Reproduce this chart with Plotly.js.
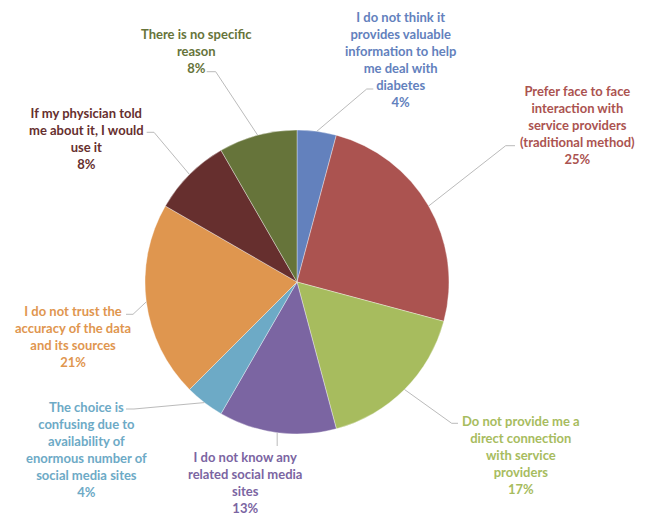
<!DOCTYPE html>
<html>
<head>
<meta charset="utf-8">
<script src="https://cdn.plot.ly/plotly-3.0.1.min.js"></script>
<style>html,body{margin:0;padding:0;background:#fff;}#chart{width:645px;height:516px;}</style>
</head>
<body>
<div id="chart"></div>
<script>
// ---- data ----
var categories = [
  "I do not think it<br>provides valuable<br>information to help<br>me deal with<br>diabetes",
  "Prefer face to face<br>interaction with<br>service providers<br>(traditional method)",
  "Do not provide me a<br>direct connection<br>with service<br>providers",
  "I do not know any<br>related social media<br>sites",
  "The choice is<br>confusing due to<br>availability of<br>enormous number of<br>social media sites",
  "I do not trust the<br>accuracy of the data<br>and its sources",
  "If my physician told<br>me about it, I would<br>use it",
  "There is no specific<br>reason"
];
var counts = [1, 6, 4, 3, 1, 5, 2, 2];
var colors = ["#6381BD", "#AB5350", "#A7BC5E", "#7B65A2", "#6DAAC6", "#DF964F", "#662F2E", "#66743A"];

// ---- layout constants (pixels) ----
var W = 645, H = 516;
var CX = 297, CY = 282, R = 152;
// label block centres and leader elbows/ends
var labelPos = [[400, 60], [577, 125], [521, 455], [245, 482], [86, 449], [72.5, 336.5], [86.7, 138], [196, 51.5]];
var leaderElbow = [[366.7, 89], [505.7, 145.7], [451.7, 423.3], null, [134, 409], [133, 314.3], [154, 132.3], [215.7, 71.7]];
var leaderEnd = [[373.3, 89], [515, 145.7], [458, 423.3], [277.2, 446], [126, 409], [126, 314.3], [146.7, 132.3], [206.7, 71.7]];

function px(x) { return x / W; }
function py(y) { return 1 - y / H; }

var total = counts.reduce(function (a, b) { return a + b; }, 0);

var trace = {
  type: 'pie',
  values: counts,
  labels: categories,
  sort: false,
  direction: 'clockwise',
  rotation: 0,
  textinfo: 'none',
  hoverinfo: 'label+percent',
  marker: { colors: colors, line: { color: 'rgba(255,255,255,0.6)', width: 0.6 } },
  domain: { x: [px(CX - R), px(CX + R)], y: [py(CY + R), py(CY - R)] },
  showlegend: false
};

var annotations = [];
var shapes = [];
var cum = 0;
counts.forEach(function (v, i) {
  var mid = (cum + v / 2) / total;
  cum += v;
  var ang = mid * 2 * Math.PI;
  var ex = CX + R * Math.sin(ang), ey = CY - R * Math.cos(ang);
  var pct = Math.round(v / total * 100);
  annotations.push({
    xref: 'paper', yref: 'paper',
    x: px(labelPos[i][0]), y: py(labelPos[i][1]),
    xanchor: 'center', yanchor: 'middle',
    text: '<b>' + categories[i] + '<br>' + pct + '%</b>',
    showarrow: false, align: 'center',
    font: { family: 'Lato, "Open Sans", sans-serif', size: 13, color: colors[i] }
  });
  var pts = [[ex, ey]];
  if (leaderElbow[i]) pts.push(leaderElbow[i]);
  pts.push(leaderEnd[i]);
  for (var k = 0; k < pts.length - 1; k++) {
    shapes.push({
      type: 'line', xref: 'paper', yref: 'paper',
      x0: px(pts[k][0]), y0: py(pts[k][1]), x1: px(pts[k + 1][0]), y1: py(pts[k + 1][1]),
      line: { color: '#BBBBBB', width: 1 }
    });
  }
});

var layout = {
  width: W, height: H,
  margin: { l: 0, r: 0, t: 0, b: 0 },
  paper_bgcolor: '#ffffff',
  annotations: annotations,
  shapes: shapes
};

Plotly.newPlot('chart', [trace], layout, { displayModeBar: false, staticPlot: true });
</script>
</body>
</html>
